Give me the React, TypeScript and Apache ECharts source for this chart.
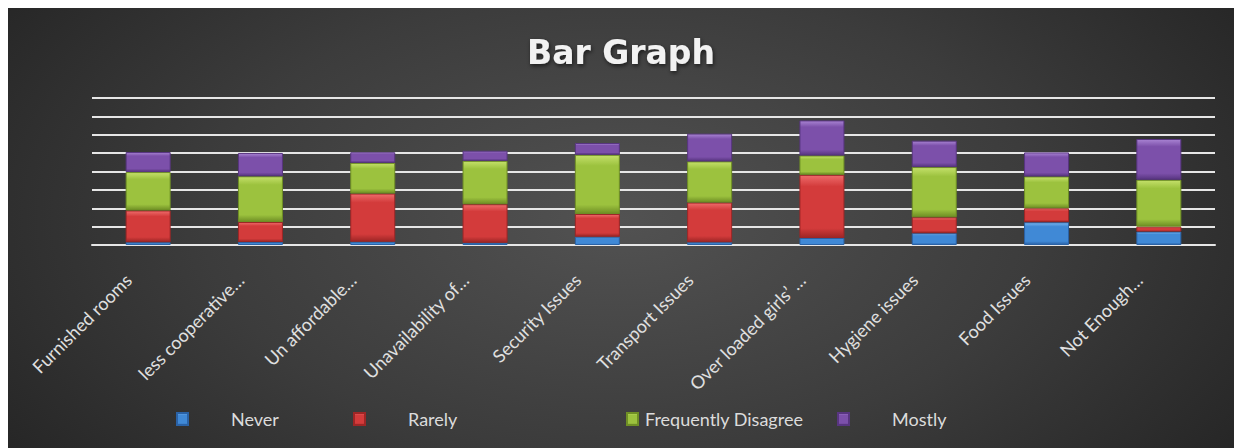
import React, { useEffect, useRef } from "react";
import * as echarts from "echarts";

const categories = [
  "Furnished rooms",
  "less cooperative…",
  "Un affordable…",
  "Unavailability of…",
  "Security Issues",
  "Transport Issues",
  "Over loaded girls’ …",
  "Hygiene issues",
  "Food Issues",
  "Not Enough…",
];

const never = [1.5, 1.6, 1.8, 1.2, 4.5, 1.5, 3.8, 6.4, 12.4, 7.3];
const rarely = [17.3, 10.9, 26.2, 21.0, 12.4, 21.6, 34.4, 8.7, 7.6, 2.7];
const frequently = [20.9, 24.9, 16.7, 23.6, 32.2, 22.4, 10.5, 27.3, 17.3, 25.5];
const mostly = [10.9, 12.7, 5.8, 5.5, 6.4, 15.1, 19.1, 14.4, 13.1, 22.2];

const seriesNames = ["Never", "Rarely", "Frequently Disagree", "Mostly"];
const yTicks = { min: 0, max: 80, interval: 10 };

const palette = [
  { light: "#79b4ee", base: "#4089d6", dark: "#2a62a6" },
  { light: "#ee6b6b", base: "#d33b3b", dark: "#9e2626" },
  { light: "#c4e06a", base: "#9cc23e", dark: "#6f8f25" },
  { light: "#a883d2", base: "#7c50aa", dark: "#583580" },
];

function barStyle(i: number) {
  const p = palette[i];
  return {
    color: new echarts.graphic.LinearGradient(0, 0, 0, 1, [
      { offset: 0, color: p.light },
      { offset: 0.18, color: p.base },
      { offset: 0.85, color: p.base },
      { offset: 1, color: p.dark },
    ]),
    borderColor: p.dark,
    borderWidth: 1,
  };
}

export default function App() {
  const ref = useRef<HTMLDivElement>(null);
  useEffect(() => {
    if (!ref.current) return;
    const chart = echarts.init(ref.current, null, { renderer: "svg" });
    const data = [never, rarely, frequently, mostly];
    const legendLefts = [163, 340, 613, 824];
    const legendPads = [38, 38, 2, 38];
    chart.setOption({
      animation: false,
      title: {
        text: "Bar Graph",
        left: "center",
        top: 23,
        textStyle: {
          color: "#f2f2f2",
          fontFamily: "DejaVu Sans",
          fontWeight: "bold",
          fontSize: 33,
          textShadowColor: "rgba(0,0,0,0.6)",
          textShadowBlur: 4,
          textShadowOffsetX: 1,
          textShadowOffsetY: 2,
        },
      },
      legend: seriesNames.map((n, i) => ({
        data: [n],
        left: legendLefts[i],
        top: 395,
        itemWidth: 11,
        itemHeight: 12,
        icon: "rect",
        selectedMode: false,
        textStyle: {
          color: "#dcdcdc",
          fontFamily: "Lato",
          fontSize: 18,
          lineHeight: 22,
          padding: [0, 0, 0, legendPads[i]],
        },
      })),
      grid: { left: 84, right: 19, top: 90, bottom: 203 },
      xAxis: {
        type: "category",
        data: categories,
        axisLine: { show: true, lineStyle: { color: "#e6e6e6", width: 2 } },
        axisTick: { show: false },
        axisLabel: {
          rotate: 45,
          interval: 0,
          color: "#e0e0e0",
          fontFamily: "Lato",
          fontSize: 18,
          margin: 12,
          padding: [0, 28, 14, 0],
        },
      },
      yAxis: {
        type: "value",
        min: yTicks.min,
        max: yTicks.max,
        interval: yTicks.interval,
        axisLabel: { show: false },
        axisLine: { show: false },
        axisTick: { show: false },
        splitLine: { show: true, lineStyle: { color: "#e6e6e6", width: 2 } },
      },
      series: seriesNames.map((n, i) => ({
        name: n,
        type: "bar",
        stack: "total",
        barWidth: 45,
        data: data[i],
        itemStyle: barStyle(i),
      })),
    });
    return () => chart.dispose();
  }, []);
  return (
    <div
      ref={ref}
      style={{
        width: 1226,
        height: 440,
        background:
          "radial-gradient(ellipse 62% 95% at 50% 48%, #525252 0%, #3c3c3c 55%, #252525 100%)",
      }}
    />
  );
}
